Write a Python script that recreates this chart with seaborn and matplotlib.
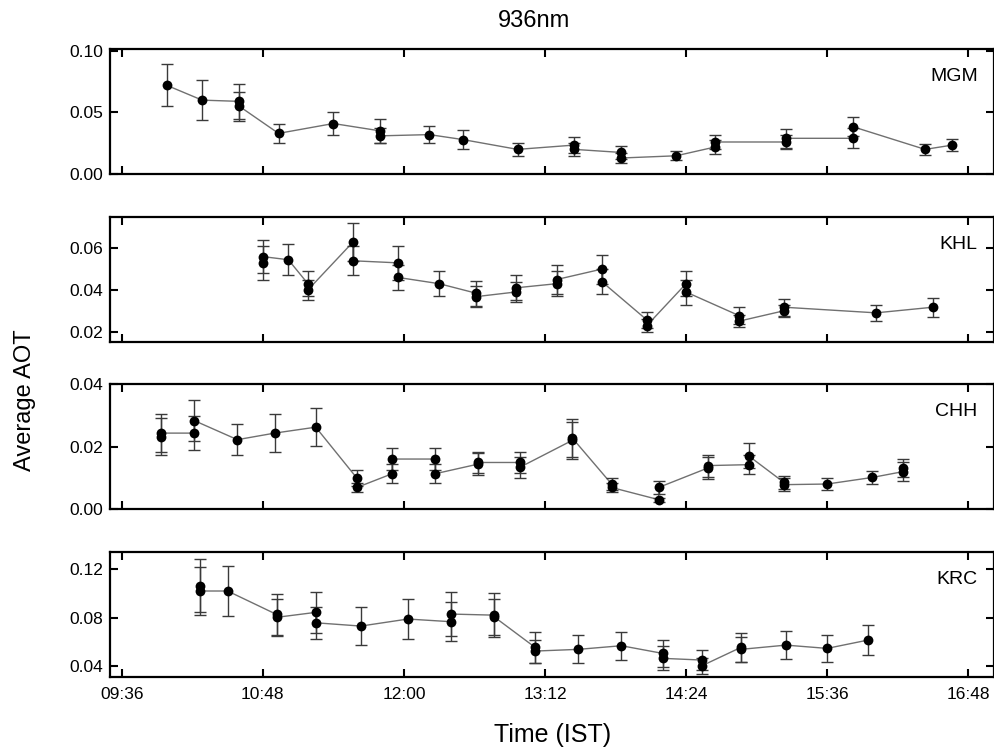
import matplotlib
matplotlib.use("Agg")
import matplotlib.pyplot as plt
import pandas as pd
import seaborn as sns
from matplotlib.ticker import FuncFormatter, FixedLocator

sns.set_theme(style="ticks")
plt.rcParams["font.family"] = ["Liberation Sans", "DejaVu Sans"]
plt.rcParams["text.color"] = "black"

# ---- data (time, mean AOT, error half-width) ----
mgm_time = ["09:59", "10:17", "10:36", "10:36", "10:56", "11:24", "11:48", "11:48",
            "12:13", "12:30", "12:58", "13:27", "13:27", "13:51", "13:51", "14:19",
            "14:39", "14:39", "15:15", "15:15", "15:49", "15:49", "16:26", "16:40"]
mgm_aot = [0.072, 0.060, 0.059, 0.055, 0.033, 0.041, 0.035, 0.031,
           0.032, 0.028, 0.020, 0.0235, 0.020, 0.0175, 0.013, 0.0148,
           0.022, 0.026, 0.026, 0.029, 0.029, 0.0385, 0.020, 0.0235]
mgm_err = [0.017, 0.016, 0.014, 0.012, 0.008, 0.0095, 0.010, 0.006,
           0.007, 0.0075, 0.0055, 0.0065, 0.005, 0.005, 0.004, 0.0035,
           0.006, 0.006, 0.006, 0.0075, 0.008, 0.008, 0.0045, 0.005]

khl_time = ["10:48", "10:48", "11:01", "11:11", "11:11", "11:34", "11:34", "11:57",
            "11:57", "12:18", "12:37", "12:37", "12:57", "12:57", "13:18", "13:18",
            "13:41", "13:41", "14:04", "14:04", "14:24", "14:24", "14:51", "14:51",
            "15:14", "15:14", "16:01", "16:30"]
khl_aot = [0.053, 0.056, 0.0545, 0.043, 0.040, 0.063, 0.054, 0.053,
           0.046, 0.043, 0.0384, 0.0368, 0.039, 0.041, 0.043, 0.045,
           0.050, 0.044, 0.0256, 0.0229, 0.043, 0.039, 0.0277, 0.025,
           0.030, 0.0317, 0.029, 0.0317]
khl_err = [0.008, 0.008, 0.0075, 0.006, 0.005, 0.009, 0.007, 0.008,
           0.006, 0.006, 0.006, 0.005, 0.005, 0.006, 0.006, 0.007,
           0.007, 0.006, 0.004, 0.003, 0.006, 0.006, 0.004, 0.003,
           0.003, 0.004, 0.004, 0.0045]

chh_time = ["09:56", "09:56", "10:13", "10:13", "10:35", "10:54", "11:15", "11:36",
            "11:36", "11:54", "11:54", "12:16", "12:16", "12:38", "12:38", "12:59",
            "12:59", "13:26", "13:26", "13:46", "13:46", "14:10", "14:10", "14:35",
            "14:35", "14:56", "14:56", "15:14", "15:14", "15:36", "15:59", "16:15",
            "16:15"]
chh_aot = [0.0232, 0.0243, 0.0243, 0.0283, 0.0222, 0.0243, 0.0262, 0.0099,
           0.0069, 0.0113, 0.016, 0.016, 0.0113, 0.0144, 0.0149, 0.0149,
           0.0133, 0.022, 0.0227, 0.008, 0.0069, 0.003, 0.0069, 0.0131,
           0.0139, 0.0142, 0.017, 0.0085, 0.0078, 0.008, 0.0101, 0.012,
           0.0131]
chh_err = [0.006, 0.006, 0.0055, 0.0065, 0.005, 0.006, 0.006, 0.0025,
           0.0015, 0.003, 0.0035, 0.0035, 0.003, 0.0035, 0.0035, 0.0035,
           0.0035, 0.006, 0.006, 0.002, 0.0015, 0.0006, 0.002, 0.0035,
           0.0035, 0.003, 0.004, 0.002, 0.002, 0.0018, 0.002, 0.003,
           0.003]

krc_time = ["10:16", "10:16", "10:30", "10:55", "10:55", "11:15", "11:15", "11:38",
            "12:02", "12:24", "12:24", "12:46", "12:46", "13:07", "13:07", "13:29",
            "13:51", "14:12", "14:12", "14:32", "14:32", "14:52", "14:52", "15:15",
            "15:36", "15:57"]
krc_aot = [0.1063, 0.1019, 0.1019, 0.0826, 0.0802, 0.0843, 0.0757, 0.073,
           0.0788, 0.0766, 0.0829, 0.082, 0.0807, 0.0554, 0.0524, 0.0538,
           0.0568, 0.0505, 0.0464, 0.045, 0.0402, 0.0554, 0.0538, 0.0573,
           0.0546, 0.0615]
krc_err = [0.022, 0.020, 0.021, 0.017, 0.015, 0.017, 0.013, 0.0155,
           0.0165, 0.016, 0.018, 0.018, 0.015, 0.013, 0.0095, 0.0115,
           0.0115, 0.011, 0.010, 0.008, 0.0065, 0.012, 0.0105, 0.0115,
           0.011, 0.0125]

sites = ["MGM", "KHL", "CHH", "KRC"]
times = [mgm_time, khl_time, chh_time, krc_time]
aots = [mgm_aot, khl_aot, chh_aot, krc_aot]
errs = [mgm_err, khl_err, chh_err, krc_err]
ylims = [(0.0, 0.1015), (0.015, 0.075), (0.0, 0.04), (0.031, 0.134)]
yticks = [[0.00, 0.05, 0.10], [0.02, 0.04, 0.06], [0.00, 0.02, 0.04], [0.04, 0.08, 0.12]]
xtick_labels = ["09:36", "10:48", "12:00", "13:12", "14:24", "15:36", "16:48"]


def to_min(t):
    h, m = t.split(":")
    return int(h) * 60 + int(m)


def hhmm(v, _):
    v = int(round(v))
    return f"{v // 60:02d}:{v % 60:02d}"


fig = plt.figure(figsize=(9.95, 7.51), dpi=100)

bottoms = [0.7683, 0.5446, 0.3222, 0.0985]
for i, site in enumerate(sites):
    ax = fig.add_axes([0.1106, bottoms[i], 0.888, 0.1664])
    df = pd.DataFrame({"t": [to_min(t) for t in times[i]], "aot": aots[i], "err": errs[i]})

    ax.errorbar(df["t"], df["aot"], yerr=df["err"], fmt="none", ecolor="#3a3a3a",
                elinewidth=1.0, capsize=4.5, capthick=1.0, zorder=2)
    sns.lineplot(data=df, x="t", y="aot", sort=False, estimator=None, ax=ax,
                 color="#707070", linewidth=1.0, zorder=1)
    sns.scatterplot(data=df, x="t", y="aot", ax=ax, color="black", s=50,
                    edgecolor="black", linewidth=0, zorder=3)

    ax.set_xlim(to_min("09:30"), to_min("17:01"))
    ax.set_ylim(*ylims[i])
    ax.xaxis.set_major_locator(FixedLocator([to_min(t) for t in xtick_labels]))
    ax.xaxis.set_major_formatter(FuncFormatter(hhmm))
    ax.set_yticks(yticks[i])
    ax.yaxis.set_major_formatter(FuncFormatter(lambda v, _: f"{v:.2f}"))
    ax.tick_params(direction="in", length=6, width=1.5, top=True, right=True,
                   labelsize=12.5, colors="black", pad=5)
    ax.tick_params(axis="x", pad=7)
    if i < 3:
        ax.tick_params(labelbottom=False)
    for sp in ax.spines.values():
        sp.set_visible(True)
        sp.set_linewidth(1.6)
        sp.set_color("black")
    ax.set_xlabel("")
    ax.set_ylabel("")
    ax.text(0.982, 0.78, site, transform=ax.transAxes, ha="right", va="center",
            fontsize=14, color="black")

fig.text(0.537, 0.972, "936nm", ha="center", va="center", fontsize=17, color="black")
fig.text(0.555, 0.021, "Time (IST)", ha="center", va="center", fontsize=18, color="black")
fig.text(0.025, 0.467, "Average AOT", ha="center", va="center", rotation=90,
         fontsize=17, color="black")

fig.savefig("out.png", dpi=100, facecolor="white")
